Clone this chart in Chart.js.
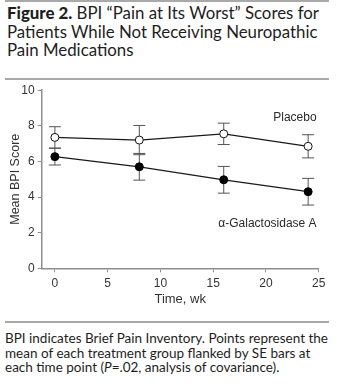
<!DOCTYPE html>
<html>
<head>
<meta charset="utf-8">
<script src="https://cdn.jsdelivr.net/npm/chart.js@4.4.1/dist/chart.umd.min.js"></script>
<style>
  html, body { margin:0; padding:0; background:#fff; width:341px; height:388px; overflow:hidden; }
  .rule { position:absolute; left:5px; width:324px; height:2px; background:#a9a9a9; }
  #title { position:absolute; left:7px; top:4px; font-family:Lato, "Open Sans", sans-serif; color:#1e1e1e; line-height:18.7px; white-space:nowrap; }
  #title b { font-weight:900; }
  #caption { position:absolute; left:5px; top:331px; font-family:Lato, "Open Sans", sans-serif; color:#1e1e1e; line-height:14.5px; white-space:nowrap; }
  #wrap { position:absolute; left:0; top:80px; width:341px; height:240px; }
</style>
</head>
<body>
<div class="rule" style="top:0px;height:1.5px"></div>
<div id="title"><span id="t1"><b>Figure 2.</b> BPI “Pain at Its Worst” Scores for</span><br>Patients While Not Receiving Neuropathic<br>Pain Medications</div>
<div class="rule" style="top:78px"></div>
<div id="wrap"><canvas id="c" width="341" height="240"></canvas></div>
<div class="rule" style="top:320.5px"></div>
<div id="caption"><span id="c1">BPI indicates Brief Pain Inventory. Points represent the</span><br>mean of each treatment group flanked by SE bars at<br>each time point (<i>P</i>=.02, analysis of covariance).</div>
<script>
// ---- data ----
const weeks = [0, 8, 16, 24];
const placeboMean = [7.35, 7.2, 7.55, 6.85];
const placeboSE = [0.6, 0.82, 0.6, 0.65];
const galMean = [6.27, 5.7, 4.97, 4.3];
const galSE = [0.47, 0.75, 0.75, 0.75];
const xTicks = [0, 5, 10, 15, 20, 25];
const yTicks = [0, 2, 4, 6, 8, 10];
const seriesNames = ['Placebo', 'α-Galactosidase A'];

// fit text blocks to reference widths
function fit(blockId, lineId, target) {
  const blk = document.getElementById(blockId), ln = document.getElementById(lineId);
  let size = 15;
  blk.style.fontSize = size + 'px';
  const w = ln.getBoundingClientRect().width;
  size = size * target / w;
  blk.style.fontSize = size + 'px';
}
fit('title', 't1', 312);
fit('caption', 'c1', 323);

const axisColor = '#8e8e8e';
const tickFont = { family: '"Liberation Sans", Arial, sans-serif', size: 12 };

const errorBars = {
  id: 'errorBars',
  beforeDatasetsDraw(chart) {
    const { ctx, scales: { x, y } } = chart;
    ctx.save();
    ctx.strokeStyle = '#555';
    ctx.lineWidth = 1;
    chart.data.datasets.forEach(ds => {
      ds.data.forEach((p, j) => {
        const px = x.getPixelForValue(p.x);
        const t = y.getPixelForValue(p.y + ds.se[j]);
        const b = y.getPixelForValue(p.y - ds.se[j]);
        ctx.beginPath();
        ctx.moveTo(px, t); ctx.lineTo(px, b);
        ctx.moveTo(px - 6, t); ctx.lineTo(px + 6, t);
        ctx.moveTo(px - 6, b); ctx.lineTo(px + 6, b);
        ctx.stroke();
      });
    });
    ctx.restore();
  }
};

const seriesLabels = {
  id: 'seriesLabels',
  afterDatasetsDraw(chart, args, opts) {
    const { ctx, scales: { x, y } } = chart;
    ctx.save();
    ctx.fillStyle = '#2a2a2a';
    ctx.font = '12px "Liberation Sans", Arial, sans-serif';
    ctx.textAlign = 'right';
    ctx.textBaseline = 'middle';
    opts.items.forEach(it => {
      ctx.fillText(it.text, x.getPixelForValue(it.x), y.getPixelForValue(it.y));
    });
    ctx.restore();
  }
};

new Chart(document.getElementById('c'), {
  type: 'line',
  data: {
    datasets: [
      {
        label: seriesNames[0],
        data: weeks.map((w, i) => ({ x: w, y: placeboMean[i] })),
        se: placeboSE,
        borderColor: '#1a1a1a', borderWidth: 1.3,
        pointBackgroundColor: '#fff', pointBorderColor: '#111', pointBorderWidth: 1,
        pointRadius: 4, tension: 0
      },
      {
        label: seriesNames[1],
        data: weeks.map((w, i) => ({ x: w, y: galMean[i] })),
        se: galSE,
        borderColor: '#1a1a1a', borderWidth: 1.3,
        pointBackgroundColor: '#000', pointBorderColor: '#000', pointBorderWidth: 1,
        pointRadius: 4, tension: 0
      }
    ]
  },
  options: {
    responsive: false,
    animation: false,
    devicePixelRatio: 1,
    layout: { padding: { top: 10, right: 22.3, left: 0, bottom: 0 } },
    plugins: {
      legend: { display: false },
      tooltip: { enabled: false },
      seriesLabels: { items: [
        { text: seriesNames[0], x: 24.8, y: 8.43 },
        { text: seriesNames[1], x: 24.8, y: 2.48 }
      ] }
    },
    scales: {
      x: {
        type: 'linear', min: -1.25, max: 25,
        afterBuildTicks: s => { s.ticks = xTicks.map(v => ({ value: v })); },
        afterFit: s => { s.height = 51.7; },
        grid: { drawOnChartArea: false, drawTicks: true, tickLength: 4, color: axisColor, lineWidth: 1 },
        border: { color: axisColor, width: 1.5 },
        ticks: { color: '#333', font: tickFont, padding: 4, maxRotation: 0, autoSkip: false },
        title: { display: true, text: 'Time, wk', color: '#333', font: { family: tickFont.family, size: 13 }, padding: { top: 0, bottom: 13 } }
      },
      y: {
        min: 0, max: 10,
        afterBuildTicks: s => { s.ticks = yTicks.map(v => ({ value: v })); },
        afterFit: s => { s.width = 41.7; },
        grid: { drawOnChartArea: false, drawTicks: true, tickLength: 4, color: axisColor, lineWidth: 1 },
        border: { color: axisColor, width: 1.5 },
        ticks: { color: '#333', font: tickFont, padding: 3 },
        title: { display: true, text: 'Mean BPI Score', color: '#333', font: { family: tickFont.family, size: 12.5 }, padding: { top: 8, bottom: 0 } }
      }
    }
  },
  plugins: [errorBars, seriesLabels]
});
</script>
</body>
</html>
